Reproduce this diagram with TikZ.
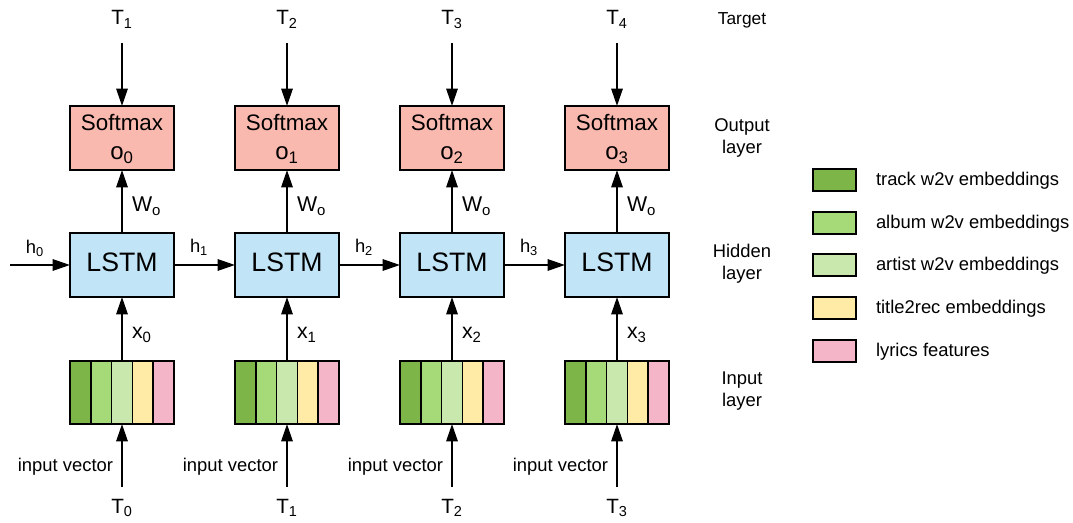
\documentclass[tikz,border=0pt]{standalone}
\usepackage{fontspec}
\setmainfont{Liberation Sans}
\usetikzlibrary{arrows.meta}
\definecolor{dgreen}{HTML}{7DB548}
\definecolor{mgreen}{HTML}{A6D978}
\definecolor{lgreen}{HTML}{C8E8AD}
\definecolor{lyellow}{HTML}{FFEBA5}
\definecolor{lpink}{HTML}{F4B5C8}
\definecolor{salmon}{HTML}{FAB9AF}
\definecolor{lblue}{HTML}{C1E4F6}
\tikzset{
  smbox/.style={draw=black, fill=salmon, line width=1.6pt, minimum width=78pt, minimum height=48pt, inner sep=0pt, outer sep=0pt},
  lstmbox/.style={draw=black, fill=lblue, line width=1.6pt, minimum width=78pt, minimum height=48pt, inner sep=0pt, outer sep=0pt},
  cellbox/.style={draw=black, line width=1.2pt, minimum width=15.6pt, minimum height=47.25pt, inner sep=0pt, outer sep=0pt},
  inbox/.style={draw=black, line width=1.6pt, minimum width=78pt, minimum height=47.25pt, inner sep=0pt, outer sep=0pt},
  swatch/.style={draw=black, line width=1.4pt, minimum width=32pt, minimum height=16.5pt, inner sep=0pt},
  arr/.style={-{Triangle[length=13pt,width=8.5pt]}, line width=1.5pt},
  txt/.style={inner sep=0pt, outer sep=0pt},
  smfont/.style={font=\fontsize{16.8}{20}\selectfont},
  ofont/.style={font=\fontsize{18}{21}\selectfont},
  lstmfont/.style={font=\fontsize{20}{24}\selectfont},
  tfont/.style={font=\fontsize{15.5}{18}\selectfont},
  xfont/.style={font=\fontsize{16}{19}\selectfont},
  hfont/.style={font=\fontsize{13.8}{16}\selectfont},
  lfont/.style={font=\fontsize{13.8}{16.5}\selectfont},
}
\begin{document}
\begin{tikzpicture}[x=0.75pt,y=-0.75pt]
\useasboundingbox (0,0) rectangle (1073,523);
\fill[white] (0,0) rectangle (1073,523);

\foreach \i/\n in {0/1,1/2,2/3,3/4} {
  \pgfmathsetmacro\cx{122+165*\i}
  % output layer
  \node[smbox] (sm\i) at (\cx,138) {};
  \node[txt, smfont, anchor=base] (smt\i) at (\cx,131) {Softmax};
  \node[txt, ofont, anchor=base] (smo\i) at (\cx,160) {o\textsubscript{\i}};
  % target
  \node[txt, tfont, anchor=base] (tg\i) at (\cx,25) {T\textsubscript{\n}};
  \coordinate (tc\i) at (\cx,43);
  \draw[arr] (tc\i) -- (sm\i.north);
  % LSTM
  \node[lstmbox] (ls\i) at (\cx,265) {};
  \node[txt, lstmfont, anchor=base] (lst\i) at (\cx,272) {LSTM};
  \draw[arr] (ls\i.north) -- (sm\i.south);
  \node[txt, xfont, anchor=base west] (wo\i) at (\cx+10,212) {W\textsubscript{o}};
  % input vector
  \node[cellbox, fill=dgreen] (c\i a) at (\cx-41.6,392.5) {};
  \node[cellbox, fill=mgreen] (c\i b) at (\cx-20.8,392.5) {};
  \node[cellbox, fill=lgreen] (c\i c) at (\cx,392.5) {};
  \node[cellbox, fill=lyellow] (c\i d) at (\cx+20.8,392.5) {};
  \node[cellbox, fill=lpink] (c\i e) at (\cx+41.6,392.5) {};
  \node[inbox] (in\i) at (\cx,392.5) {};
  \draw[arr] (in\i.north) -- (ls\i.south);
  \node[txt, xfont, anchor=base west] (x\i) at (\cx+10,339) {x\textsubscript{\i}};
  \coordinate (bc\i) at (\cx,487);
  \draw[arr] (bc\i) -- (in\i.south);
  \node[txt, lfont, anchor=base east] (iv\i) at (\cx-9,471) {input vector};
  \node[txt, tfont, anchor=base] (tb\i) at (\cx,513) {T\textsubscript{\i}};
}

% recurrent connections
\coordinate (hs) at (10,265);
\draw[arr] (hs) -- (ls0.west);
\node[txt, hfont, anchor=base west] (h0) at (26,254) {h\textsubscript{0}};
\draw[arr] (ls0.east) -- (ls1.west);
\node[txt, hfont, anchor=base west] (h1) at (190,253) {h\textsubscript{1}};
\draw[arr] (ls1.east) -- (ls2.west);
\node[txt, hfont, anchor=base west] (h2) at (355,253) {h\textsubscript{2}};
\draw[arr] (ls2.east) -- (ls3.west);
\node[txt, hfont, anchor=base west] (h3) at (520,253) {h\textsubscript{3}};

% layer labels
\node[txt, font=\fontsize{13}{16}\selectfont, anchor=base] (target) at (742,25) {Target};
\node[txt, lfont, align=center] (outl) at (742,138) {Output\\layer};
\node[txt, lfont, align=center] (hidl) at (742,264) {Hidden\\layer};
\node[txt, lfont, align=center] (inl) at (742,391) {Input\\layer};

% legend
\node[swatch, fill=dgreen] (s1) at (834.5,180) {};
\node[txt, lfont, anchor=base west] (l1) at (876,185.5) {track w2v embeddings};
\node[swatch, fill=mgreen] (s2) at (834.5,222.7) {};
\node[txt, lfont, anchor=base west] (l2) at (876,228.2) {album w2v embeddings};
\node[swatch, fill=lgreen] (s3) at (834.5,265.3) {};
\node[txt, lfont, anchor=base west] (l3) at (876,270.8) {artist w2v embeddings};
\node[swatch, fill=lyellow] (s4) at (834.5,308) {};
\node[txt, lfont, anchor=base west] (l4) at (876,313.5) {title2rec embeddings};
\node[swatch, fill=lpink] (s5) at (834.5,350.7) {};
\node[txt, lfont, anchor=base west] (l5) at (876,356.2) {lyrics features};
\end{tikzpicture}
\end{document}
